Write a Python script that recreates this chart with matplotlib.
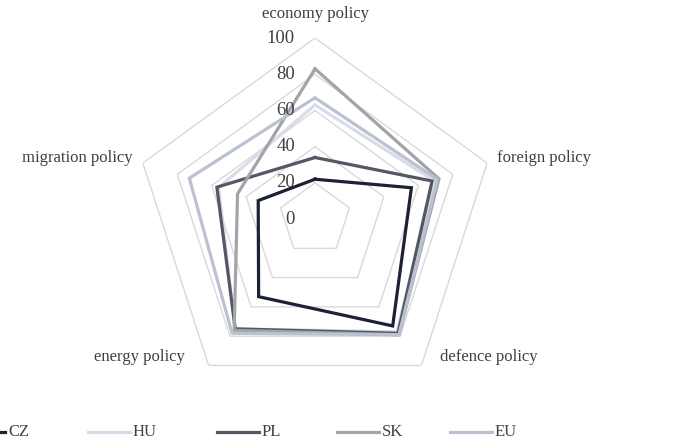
import numpy as np
import matplotlib
matplotlib.use("Agg")
import matplotlib.pyplot as plt
from matplotlib.lines import Line2D

plt.rcParams['font.family'] = ['Liberation Serif', 'DejaVu Serif']

categories = ["economy policy", "foreign policy", "defence policy", "energy policy", "migration policy"]
series = ["CZ", "HU", "PL", "SK", "EU"]
cz = [22, 56, 73, 53, 33]
hu = [63, 69, 77, 75, 56]
pl = [34, 68, 78, 75, 57]
sk = [83, 72, 79, 76, 45]
eu = [67, 71, 79, 78, 73]
colors = ["#1c2236", "#d8dce9", "#555864", "#a3a4a9", "#bac1d0"]
ticks = [0, 20, 40, 60, 80, 100]

fig = plt.figure(figsize=(6.89, 4.44), dpi=100)
ax = fig.add_axes([0.1945, 0.099, 0.5254, 0.8153], projection="polar")
ax.set_theta_offset(np.pi / 2)
ax.set_theta_direction(-1)
ax.set_ylim(0, 100)
ax.set_axis_off()

n = len(categories)
angles = np.linspace(0, 2 * np.pi, n, endpoint=False)
closed = np.append(angles, angles[0])

# pentagon grid
for t in ticks[1:]:
    ax.plot(closed, [t] * (n + 1), color="#d9d9d9", lw=1.0, zorder=1)

for vals, name, c in zip([cz, hu, pl, sk, eu], series, colors):
    ax.plot(closed, vals + [vals[0]], color=c, lw=2.3, zorder=3,
            solid_joinstyle="miter")

# value labels along top axis
for t in ticks:
    ax.annotate(str(t), xy=(0, t), xytext=(-20, 0), textcoords="offset pixels",
                ha="right", va="center", fontsize=13.5, color="#404040", zorder=4)

# category labels
offsets = [(0, 24, "center"), (10, 5, "left"), (19, 8, "left"),
           (-24, 8, "right"), (-10, 5, "right")]
for a, lab, (dx, dy, ha) in zip(angles, categories, offsets):
    ax.annotate(lab, xy=(a, 100), xytext=(dx, dy), textcoords="offset pixels",
                ha=ha, va="center", fontsize=12, color="#404040",
                annotation_clip=False)

# legend (clipped at the left edge like the original)
leg_x = [-37, 88, 217, 337, 450]
W, H = 689.0, 444.0
for x0, name, c in zip(leg_x, series, colors):
    fig.add_artist(Line2D([x0 / W, (x0 + 42) / W], [12 / H, 12 / H],
                          color=c, lw=2.3, transform=fig.transFigure))
    fig.text((x0 + 45) / W, 12 / H, name, ha="left", va="center",
             fontsize=12, color="#404040")

fig.savefig("out.png", dpi=100)
